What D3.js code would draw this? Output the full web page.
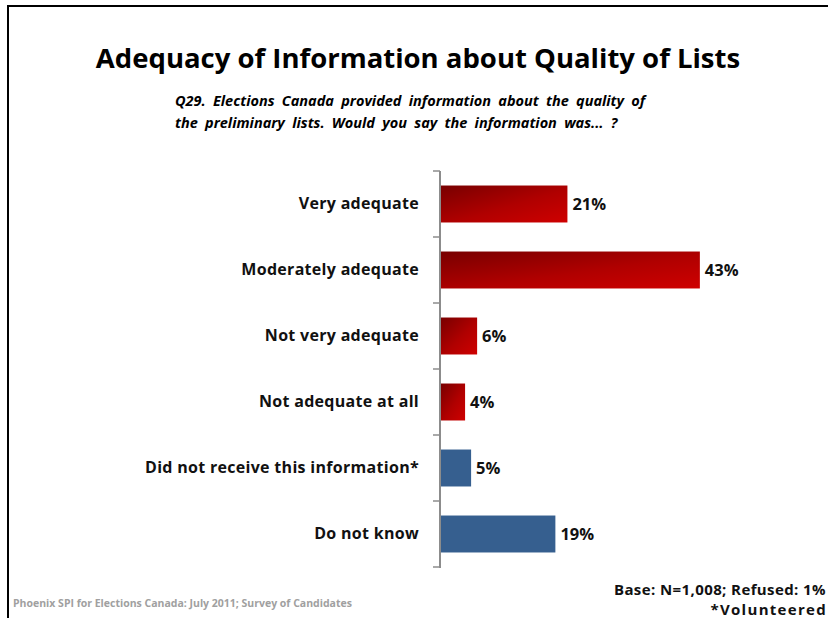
<!DOCTYPE html>
<html>
<head>
<meta charset="utf-8">
<script src="https://cdn.jsdelivr.net/npm/d3@7"></script>
<style>
  html, body { margin: 0; padding: 0; background: #fff; }
  svg { display: block; font-family: "Open Sans", Lato, sans-serif; }
</style>
</head>
<body>
<svg id="chart" width="828" height="618"></svg>
<script>
// Survey responses, Q29
const categories = [
  "Very adequate",
  "Moderately adequate",
  "Not very adequate",
  "Not adequate at all",
  "Did not receive this information*",
  "Do not know"
];
const values = [21, 43, 6, 4, 5, 19];
const groups = ["rated", "rated", "rated", "rated", "other", "other"];

const svg = d3.select("#chart");

// Frame lines (top and left)
svg.append("line").attr("x1", 8).attr("x2", 828).attr("y1", 6).attr("y2", 6)
  .attr("stroke", "#000").attr("stroke-width", 2);
svg.append("line").attr("x1", 8).attr("x2", 8).attr("y1", 5).attr("y2", 618)
  .attr("stroke", "#000").attr("stroke-width", 2);

// Red gradient for the rating bars
const defs = svg.append("defs");
const grad = defs.append("linearGradient").attr("id", "redGrad")
  .attr("x1", "0%").attr("y1", "0%").attr("x2", "100%").attr("y2", "100%");
grad.append("stop").attr("offset", "0%").attr("stop-color", "#780000");
grad.append("stop").attr("offset", "55%").attr("stop-color", "#b00000");
grad.append("stop").attr("offset", "100%").attr("stop-color", "#cf0000");

// Titles
svg.append("text").attr("x", 418).attr("y", 68).attr("text-anchor", "middle")
  .attr("font-size", 27.5).attr("font-weight", "bold").attr("fill", "#000")
  .text("Adequacy of Information about Quality of Lists");
const sub = svg.append("text").attr("text-anchor", "start")
  .attr("font-size", 14.5).attr("font-weight", "bold").attr("font-style", "italic")
  .attr("word-spacing", 3.5).attr("fill", "#000");
sub.append("tspan").attr("x", 175).attr("y", 106)
  .text("Q29.  Elections Canada provided information about the quality of");
sub.append("tspan").attr("x", 175).attr("y", 128)
  .text("the preliminary lists. Would you say the information was... ?");

// Scales
const x0 = 441;
const x = d3.scaleLinear().domain([0, 50]).range([x0, x0 + 301]);
const y = d3.scaleBand().domain(categories).range([171, 567]).paddingInner(0.44).paddingOuter(0.22);

// Bars
svg.append("g").selectAll("rect").data(categories).join("rect")
  .attr("x", x(0))
  .attr("y", d => y(d))
  .attr("width", (d, i) => x(values[i]) - x(0))
  .attr("height", y.bandwidth())
  .attr("fill", (d, i) => groups[i] === "rated" ? "url(#redGrad)" : "#365f8f");

// Value labels
svg.append("g").selectAll("text").data(categories).join("text")
  .attr("x", (d, i) => x(values[i]) + 5)
  .attr("y", d => y(d) + y.bandwidth() / 2)
  .attr("dy", "0.36em")
  .attr("font-size", 16.5).attr("font-weight", "bold").attr("fill", "#111")
  .text((d, i) => values[i] + "%");

// Category axis
const axis = d3.axisLeft(y).tickSize(0).tickPadding(21);
const ag = svg.append("g").attr("transform", `translate(${x0 - 1},0)`).call(axis);
ag.select(".domain").attr("stroke", "#8c8c8c").attr("stroke-width", 2)
  .attr("d", "M0,171V568");
ag.selectAll(".tick text").attr("font-size", 16).attr("font-weight", "bold")
  .attr("letter-spacing", 0.3)
  .attr("fill", "#111").attr("font-family", "'Open Sans', Lato, sans-serif");

// Boundary tick marks between categories
const bounds = d3.range(categories.length + 1).map(i => 171 + i * (396 / categories.length));
svg.append("g").selectAll("line").data(bounds).join("line")
  .attr("x1", x0 - 8).attr("x2", x0 - 1)
  .attr("y1", d => d).attr("y2", d => d)
  .attr("stroke", "#8c8c8c").attr("stroke-width", 1.5);

// Footer notes
svg.append("text").attr("x", 13).attr("y", 607)
  .attr("font-size", 10.5).attr("font-weight", "bold").attr("fill", "#a0a0a0")
  .text("Phoenix SPI for Elections Canada: July 2011; Survey of Candidates");
svg.append("text").attr("x", 826).attr("y", 595).attr("text-anchor", "end")
  .attr("font-size", 15).attr("font-weight", "bold").attr("letter-spacing", 0.4).attr("fill", "#111")
  .text("Base: N=1,008; Refused: 1%");
svg.append("text").attr("x", 827).attr("y", 615).attr("text-anchor", "end")
  .attr("font-size", 15).attr("font-weight", "bold").attr("letter-spacing", 1.3).attr("fill", "#111")
  .text("*Volunteered");
</script>
</body>
</html>
